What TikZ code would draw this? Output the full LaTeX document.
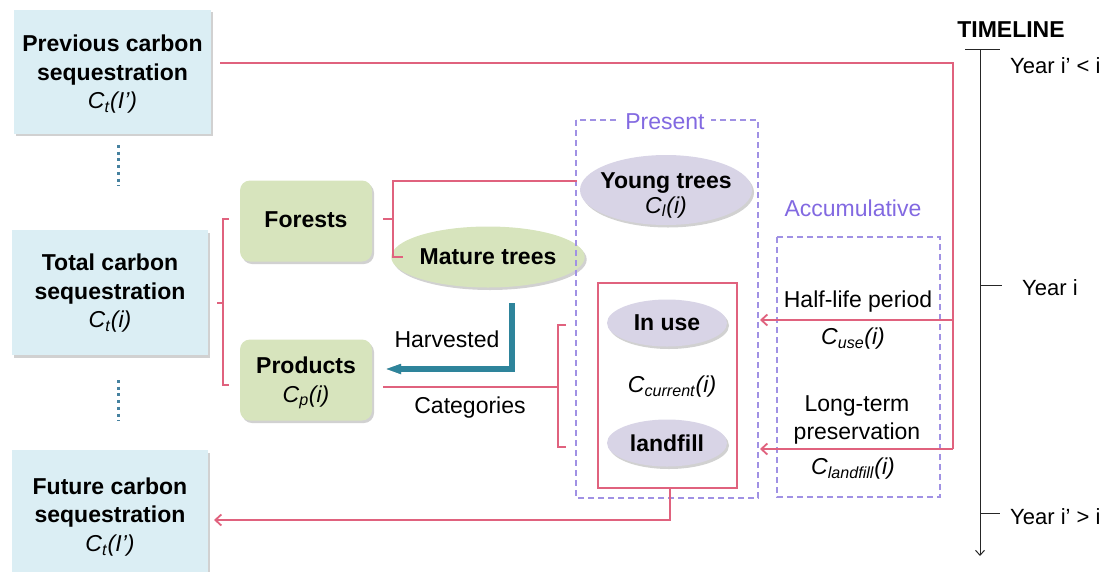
\documentclass[tikz,border=0pt]{standalone}
\usepackage{fontspec}
\setmainfont{Liberation Sans}
\usetikzlibrary{shapes.geometric,shadows,arrows.meta}
\definecolor{boxblue}{RGB}{219,238,244}
\definecolor{boxgreen}{RGB}{215,228,189}
\definecolor{lav}{RGB}{216,212,230}
\definecolor{redc}{RGB}{224,98,126}
\definecolor{purp}{RGB}{160,145,228}
\definecolor{purpt}{RGB}{130,105,225}
\definecolor{tealc}{RGB}{46,132,155}
\definecolor{dotc}{RGB}{70,130,160}
\newcommand\Cv[2]{\textit{C}\textsubscript{\textit{#1}}\textit{(#2)}}
\begin{document}
\begin{tikzpicture}[x=1pt,y=-1pt,
  txt/.style={font=\fontsize{23}{28.5}\selectfont, align=center, inner sep=0pt},
  shad/.style={drop shadow={shadow xshift=2pt,shadow yshift=-2.5pt,opacity=0.3,fill=black!60}},
  bluebox/.style={fill=boxblue, minimum width=197pt, minimum height=124pt, inner sep=0pt, shad},
  greenbox/.style={fill=boxgreen, rounded corners=10pt, minimum width=132pt, minimum height=81pt, inner sep=0pt, shad},
  greenell/.style={txt, ellipse, fill=boxgreen, shad},
  lavell/.style={ellipse, fill=lav, inner sep=0pt, shad},
  redline/.style={draw=redc, line width=1.8pt},
  redarrow/.style={redline, -{Straight Barb[length=6pt,width=11pt]}},
  dashbox/.style={draw=purp, line width=1.2pt, dash pattern=on 6pt off 4pt},
  purptxt/.style={txt, text=purpt},
  dotline/.style={draw=dotc, line width=3pt, dash pattern=on 3pt off 3.7pt},
  harv/.style={draw=tealc, line width=6.5pt, -{Triangle[length=16pt,width=9pt]}},
  tline/.style={draw=black!85, line width=1pt}
]
\useasboundingbox (0,0) rectangle (1106,571);

% blue boxes
\node[bluebox] (prev) at (112.5,71.5) {};
\node[txt] (prevt) at ([yshift=-3pt]prev.center) {\textbf{Previous carbon}\\\textbf{sequestration}\\\Cv{t}{I’}};
\node[bluebox, minimum width=196pt, minimum height=125pt] (total) at (110,292.5) {};
\node[txt] (totalt) at ([yshift=-1pt]total.center) {\textbf{Total carbon}\\\textbf{sequestration}\\\Cv{t}{i}};
\node[bluebox, minimum width=196pt, minimum height=134pt] (future) at (110,517) {};
\node[txt] (futuret) at (future.center) {\textbf{Future carbon}\\\textbf{sequestration}\\\Cv{t}{I’}};
\coordinate (d1a) at (118,145); \coordinate (d1b) at (118,186);
\coordinate (d2a) at (118,380); \coordinate (d2b) at (118,421);
\draw[dotline] (d1a) -- (d1b);
\draw[dotline] (d2a) -- (d2b);

% green boxes
\node[greenbox] (forests) at (306,221) {};
\node[txt] (forestst) at ([yshift=1pt]forests.center) {\textbf{Forests}};
\node[greenbox] (products) at (306,380) {};
\node[txt] (productst) at ([yshift=-3pt]products.center) {\textbf{Products}\\\Cv{p}{i}};
\node[greenell, minimum width=168pt, minimum height=61pt] (mature) at (488,257) {\textbf{Mature trees}};

% present box
\coordinate (prTL) at (576,120); \coordinate (prBR) at (758,498);
\draw[dashbox] (prTL) rectangle (prBR);
\node[purptxt, fill=white, inner xsep=6pt, inner ysep=2pt] (present) at (665,122) {Present};
\node[lavell, minimum width=172pt, minimum height=70pt] (young) at (666,190) {};
\node[txt, font=\fontsize{23}{25}\selectfont] (youngt) at ([yshift=-5pt]young.center) {\textbf{Young trees}\\\Cv{l}{i}};
\coordinate (rbTL) at (598,283); \coordinate (rbBR) at (737,488);
\draw[redline, line width=1.4pt] (rbTL) rectangle (rbBR);
\node[lavell, txt, minimum width=120pt, minimum height=47pt] (inuse) at (667,323) {\textbf{In use}};
\node[lavell, txt, minimum width=120pt, minimum height=47pt] (landfill) at (667,443) {\textbf{landfill}};
\node[txt] (ccur) at (672,387) {\Cv{current}{i}};

% accumulative box
\node[purptxt] (accum) at (853,208) {Accumulative};
\coordinate (acTL) at (777,237); \coordinate (acBR) at (940,497);
\draw[dashbox] (acTL) rectangle (acBR);
\node[txt] (half) at (858,302) {Half-life period};
\node[txt] (cuse) at (853,339) {\Cv{use}{i}};
\node[txt] (longterm) at (857,420) {Long-term\\preservation};
\node[txt] (cland) at (853,469) {\Cv{landfill}{i}};

% labels
\node[txt] (harvl) at (447,339) {Harvested};
\node[txt] (catl) at (470,408) {Categories};

% brackets
\coordinate (b1n) at (217,303); \coordinate (b1m) at (223,303);
\coordinate (b1t) at (229,219); \coordinate (b1b) at (229,385);
\draw[redline] (b1n) -- (b1m);
\draw[redline] (b1t) -| (b1m) |- (b1b);
\coordinate (b2n) at (383,219); \coordinate (b2m) at (393,219);
\coordinate (b2t) at (577,181); \coordinate (b2b) at (403,257);
\draw[redline] (b2n) -- (b2m);
\draw[redline] (b2t) -| (b2m) |- (b2b);
\coordinate (b3n) at (383,387); \coordinate (b3m) at (558,387);
\coordinate (b3t) at (566,325); \coordinate (b3b) at (566,447);
\draw[redline] (b3n) -- (b3m);
\draw[redline] (b3t) -| (b3m) |- (b3b);

% harvested arrow
\coordinate (hv1) at (512,303); \coordinate (hv2) at (385,369);
\draw[harv, draw=black!30, shift={(2pt,-2pt)}] (hv1) |- (hv2);
\draw[harv] (hv1) |- (hv2);

% long red connector
\coordinate (r0) at (220,63); \coordinate (r1) at (953,63);
\coordinate (r2) at (953,320); \coordinate (r3) at (953,449);
\coordinate (a1) at (760,320); \coordinate (a2) at (760,449);
\draw[redline] (r0) -- (r1) -- (r3);
\draw[redarrow] (r2) -- (a1);
\draw[redarrow] (r3) -- (a2);

% to future
\coordinate (f0) at (670,488); \coordinate (f1) at (670,520); \coordinate (f2) at (214,520);
\draw[redarrow] (f0) -- (f1) -- (f2);

% timeline
\node[txt, font=\fontsize{23}{26}\selectfont\bfseries] (tl) at (1011,30) {TIMELINE};
\coordinate (t0) at (980,49); \coordinate (t1) at (980,556);
\draw[tline, -{Straight Barb[length=5pt,width=9pt]}] (t0) -- (t1);
\coordinate (k0a) at (965,49); \coordinate (k0b) at (1000,49);
\coordinate (k1a) at (980,285); \coordinate (k1b) at (1002,285);
\coordinate (k2a) at (980,513); \coordinate (k2b) at (1000,513);
\draw[tline] (k0a) -- (k0b);
\draw[tline] (k1a) -- (k1b);
\draw[tline] (k2a) -- (k2b);
\node[txt, font=\fontsize{22}{26}\selectfont, anchor=west] (y0) at (1010,66) {Year i’ < i};
\node[txt, font=\fontsize{22}{26}\selectfont, anchor=west] (y1) at (1022,288) {Year i};
\node[txt, font=\fontsize{22}{26}\selectfont, anchor=west] (y2) at (1010,517) {Year i’ > i};
\end{tikzpicture}
\end{document}
